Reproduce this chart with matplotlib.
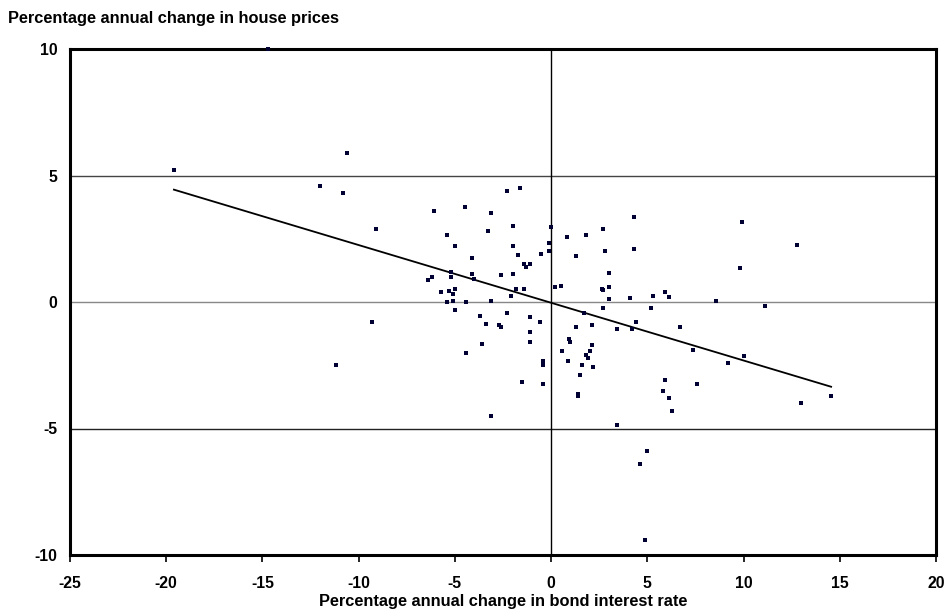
import matplotlib
matplotlib.use("Agg")
import matplotlib.pyplot as plt
import numpy as np

# percentage annual change in bond interest rate (x) vs house prices (y)
bond_change = [-19.6, -14.7, -10.6, -12.0, -10.8, -9.1, -9.3, -11.2,
               -2.3, -1.6, -6.1, -4.5, -3.1, 0.0, -2.0, -3.3, -5.4, -5.0,
               -2.0, -0.1, -0.1, -0.5, -1.7, -4.1, -1.4, -1.3, -1.1,
               -5.2, -5.2, -4.1, -4.0, -2.6, -2.0, -6.2, -6.4,
               -5.7, -5.3, -5.0, -5.1, -5.4, -5.1, -4.4, -3.1, -2.1, -1.8, -1.4,
               -5.0, -3.7, -2.3, -1.1,
               -0.6, -3.4, -2.7, -2.6, -1.1, -1.1, -3.6, -4.4, -0.4, -0.4,
               -1.5, -0.4, -3.1,
               4.3, 2.7, 1.8, 0.8, 2.8, 4.3, 1.3, 3.0, 0.2, 0.5, 2.65, 2.7,
               3.0, 3.0, 4.1, 5.3, 5.9, 6.1,
               2.7, 5.2, 1.7, 1.3, 2.1, 3.4, 4.2, 4.4, 6.7, 0.95,
               1.0, 2.1, 2.0, 0.55, 1.8, 1.9, 0.9, 1.6, 2.2, 1.5, 1.38, 1.42,
               7.35, 5.9, 5.8, 6.1, 6.3, 7.6, 3.4,
               9.9, 12.8, 9.8, 8.55, 11.1, 10.0, 9.2, 14.55, 13.0,
               5.0, 4.6, 4.9]
price_change = [5.2, 10.0, 5.9, 4.6, 4.3, 2.9, -0.8, -2.5,
                4.4, 4.5, 3.6, 3.75, 3.5, 2.95, 3.0, 2.8, 2.65, 2.2,
                2.2, 2.35, 2.0, 1.9, 1.85, 1.75, 1.5, 1.4, 1.5,
                1.2, 1.0, 1.1, 0.9, 1.05, 1.1, 1.0, 0.85,
                0.4, 0.45, 0.5, 0.3, 0.0, 0.05, 0.0, 0.05, 0.25, 0.5, 0.5,
                -0.3, -0.55, -0.45, -0.6,
                -0.8, -0.85, -0.9, -1.0, -1.2, -1.6, -1.65, -2.0, -2.35, -2.5,
                -3.15, -3.25, -4.5,
                3.35, 2.9, 2.65, 2.55, 2.0, 2.1, 1.8, 1.15, 0.6, 0.65, 0.53, 0.48,
                0.6, 0.1, 0.15, 0.25, 0.4, 0.2,
                -0.25, -0.25, -0.45, -1.0, -0.9, -1.05, -1.05, -0.8, -1.0, -1.45,
                -1.6, -1.7, -1.95, -1.95, -2.1, -2.2, -2.35, -2.5, -2.55, -2.9, -3.65, -3.7,
                -1.9, -3.1, -3.5, -3.8, -4.3, -3.25, -4.85,
                3.15, 2.25, 1.35, 0.05, -0.15, -2.15, -2.4, -3.7, -4.0,
                -5.9, -6.4, -9.4]

x = np.array(bond_change)
y = np.array(price_change)
slope, intercept = np.polyfit(x, y, 1)
fit_x = np.array([x.min(), x.max()])

plt.rcParams['font.family'] = ['Liberation Sans', 'DejaVu Sans']
plt.rcParams['font.weight'] = 'bold'
plt.rcParams['font.size'] = 11.3
plt.rcParams['axes.unicode_minus'] = False

fig = plt.figure(figsize=(9.44, 6.12), dpi=100)
ax = fig.add_axes([70 / 944, 1 - 555 / 612, (936 - 70) / 944, (555 - 49) / 612])

# gridlines and zero axis
ax.axhline(5, color='#444444', lw=1.0, zorder=1)
ax.axhline(0, color='#888888', lw=1.0, zorder=1)
ax.axhline(-5, color='#222222', lw=1.0, zorder=1)
ax.axvline(0, color='black', lw=1.0, zorder=1)

ax.plot(fit_x, slope * fit_x + intercept, color='black', lw=1.3, zorder=2)
ax.scatter(x, y, marker='s', s=7, color='#000033', linewidths=0, zorder=3, clip_on=False)

ax.set_xlim(-25, 20)
ax.set_ylim(-10, 10)
ax.set_xticks(range(-25, 21, 5))
ax.set_yticks([-10, -5, 0, 5, 10])
ax.tick_params(axis='x', direction='out', length=5, width=1.2, pad=10)
ax.tick_params(axis='y', length=0, pad=9)

for side in ['left', 'right', 'top', 'bottom']:
    ax.spines[side].set_linewidth(2.2)

ax.set_xlabel('Percentage annual change in bond interest rate', fontweight='bold',
              fontsize=11.8, labelpad=2)
fig.text(8 / 944, 1 - 19 / 612, 'Percentage annual change in house prices',
         fontweight='bold', fontsize=11.8, va='center', ha='left')

fig.savefig('out.png', dpi=100)
